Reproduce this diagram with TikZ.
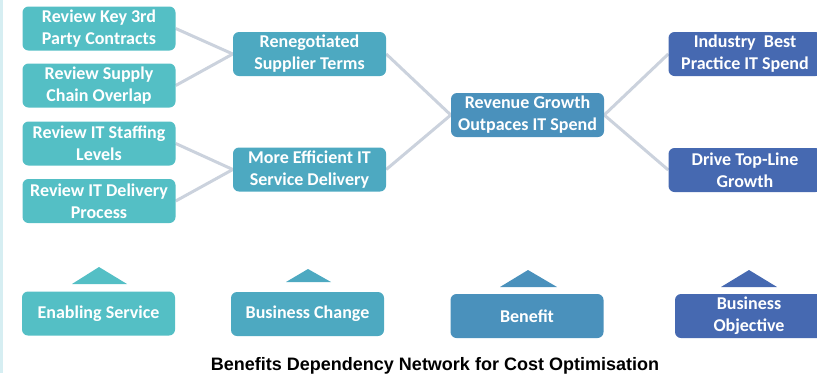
\documentclass[tikz,border=0pt]{standalone}
\usepackage{fontspec}
\setmainfont{Carlito}
\newfontfamily\titlefont{Liberation Sans}
\usetikzlibrary{backgrounds}
\definecolor{enab}{HTML}{54BFC5}
\definecolor{chng}{HTML}{4DA9C1}
\definecolor{bnft}{HTML}{4A91BC}
\definecolor{objc}{HTML}{4669B1}
\definecolor{linkc}{HTML}{CBD2DD}
\definecolor{strip}{HTML}{D6EEF2}

\begin{document}
\begin{tikzpicture}[x=1pt, y=-1pt,
    every node/.style={rounded corners=6pt, inner sep=0pt, minimum width=153pt, minimum height=44pt,
      align=center, text=white, font=\bfseries\fontsize{18}{22}\selectfont},
    link/.style={draw=linkc, line width=3pt}]
     \clip (0,0) rectangle (817,373);
     \fill[strip] (0,0) rectangle (3,373);

     \node[fill=enab] (A) at (99,28.5) {Review Key 3rd\\Party Contracts};
     \node[fill=enab] (B) at (99,85.5) {Review Supply\\Chain Overlap};
     \node[fill=enab] (C) at (99,143.5) {Review IT Staffing\\Levels};
     \node[fill=enab] (D) at (99,201) {Review IT Delivery\\Process};
     \node[fill=chng] (E) at (309.5,54) {Renegotiated\\Supplier Terms};
     \node[fill=chng] (F) at (309.5,169.5) {More Efficient IT\\Service Delivery};
     \node[fill=bnft] (G) at (527.5,115) {Revenue Growth\\Outpaces IT Spend};
     \node[fill=objc] (H) at (745,54) {Industry\ \ Best\\Practice IT Spend};
     \node[fill=objc] (I) at (745,170) {Drive Top-Line\\Growth};

     \node[fill=enab] (J) at (98.5,313.5) {Enabling Service};
     \node[fill=chng] (K) at (307.5,314) {Business Change};
     \node[fill=bnft] (L) at (527,316) {Benefit};
     \node[fill=objc, minimum width=148pt] (M) at (749,316) {Business\\Objective};
     \fill[enab] (72,284) -- (99,267) -- (127,284) -- cycle;
     \fill[chng] (286,282) -- (308,269) -- (331,282) -- cycle;
     \fill[bnft] (500,287) -- (528,270) -- (557,287) -- cycle;
     \fill[objc] (721,287) -- (749,270) -- (777,287) -- cycle;

     \node[minimum width=0pt, minimum height=0pt, anchor=base, text=black,
       font=\titlefont\bfseries\fontsize{18}{20}\selectfont] (T) at (435,370)
       {Benefits Dependency Network for Cost Optimisation};

     \begin{scope}[on background layer]
     \draw[link] (A.east) -- (E.west);
     \draw[link] (B.east) -- (E.west);
     \draw[link] (C.east) -- (F.west);
     \draw[link] (D.east) -- (F.west);
     \draw[link] (E.east) -- (G.west);
     \draw[link] (F.east) -- (G.west);
     \draw[link] (G.east) -- (H.west);
     \draw[link] (G.east) -- (I.west);
     \end{scope}
 \end{tikzpicture}
\end{document}
